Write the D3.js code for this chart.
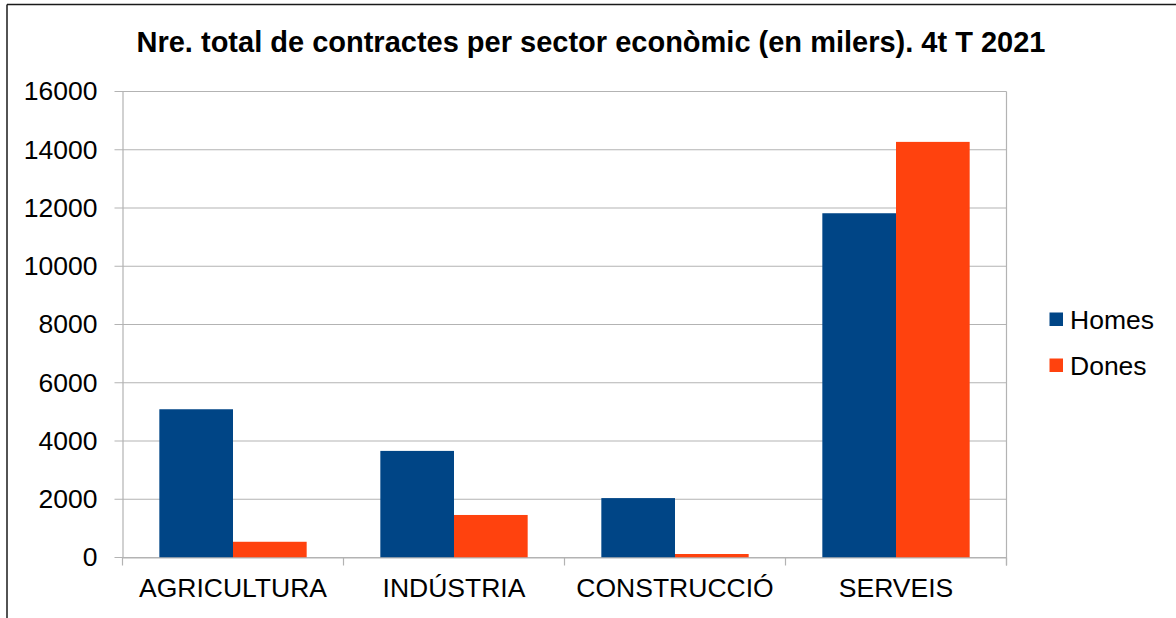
<!DOCTYPE html>
<html>
<head>
<meta charset="utf-8">
<script src="https://cdn.jsdelivr.net/npm/d3@7"></script>
<style>
  html, body { margin: 0; padding: 0; background: #fff; }
  svg { display: block; font-family: "Liberation Sans", Arial, sans-serif; }
</style>
</head>
<body>
<svg id="chart" width="1176" height="618"></svg>
<script>
// Contractes per sector econòmic (milers), 4t trimestre 2021
const categories = ["AGRICULTURA", "INDÚSTRIA", "CONSTRUCCIÓ", "SERVEIS"];
const seriesNames = ["Homes", "Dones"];
const homes = [5090, 3660, 2040, 11820];
const dones = [540, 1460, 120, 14270];
const yTicks = [0, 2000, 4000, 6000, 8000, 10000, 12000, 14000, 16000];
const title = "Nre. total de contractes per sector econòmic (en milers). 4t T 2021";

const colors = ["#004586", "#ff420e"];
const values = [homes, dones];

const W = 1176, H = 618;
const plot = { left: 122.5, right: 1006.5, top: 91.5, bottom: 557.5 };
const labelSize = 26.5;

const svg = d3.select("#chart");

// outer frame (top and left edges visible)
svg.append("line").attr("x1", 7).attr("x2", W).attr("y1", 4.5).attr("y2", 4.5)
  .attr("stroke", "#1a1a1a").attr("stroke-width", 1.5);
svg.append("line").attr("x1", 7).attr("x2", 7).attr("y1", 4.5).attr("y2", H)
  .attr("stroke", "#1a1a1a").attr("stroke-width", 1.5);

// title
svg.append("text")
  .attr("x", 591).attr("y", 52)
  .attr("text-anchor", "middle")
  .attr("font-weight", "bold")
  .attr("font-size", 29)
  .attr("fill", "#000")
  .text(title);

const x = d3.scaleBand().domain(categories).range([plot.left, plot.right]);
const xInner = d3.scaleBand().domain(seriesNames)
  .range([x.bandwidth() / 6, x.bandwidth() * 5 / 6]);
const y = d3.scaleLinear().domain([0, 16000]).range([plot.bottom, plot.top]);

// horizontal gridlines
svg.append("g").selectAll("line").data(yTicks).join("line")
  .attr("x1", plot.left - 8).attr("x2", plot.right)
  .attr("y1", d => y(d)).attr("y2", d => y(d))
  .attr("stroke", "#b3b3b3").attr("stroke-width", 1.2);

// y axis
const yAxis = d3.axisLeft(y).tickValues(yTicks).tickSize(0).tickPadding(25)
  .tickFormat(d3.format("d"));
const gy = svg.append("g").attr("transform", `translate(${plot.left},0)`).call(yAxis);
gy.select(".domain").attr("stroke", "#b3b3b3").attr("stroke-width", 1.2);
gy.selectAll("text").attr("font-size", labelSize).attr("fill", "#000")
  .attr("font-family", "Liberation Sans, Arial, sans-serif");

// right edge of plot area
svg.append("line").attr("x1", plot.right).attr("x2", plot.right)
  .attr("y1", plot.top).attr("y2", plot.bottom + 8)
  .attr("stroke", "#b3b3b3").attr("stroke-width", 1.2);

// bars
const groups = svg.append("g").selectAll("g").data(categories).join("g")
  .attr("transform", c => `translate(${x(c)},0)`);
groups.selectAll("rect")
  .data((c, i) => seriesNames.map((s, k) => ({ s, k, v: values[k][i] })))
  .join("rect")
  .attr("x", d => xInner(d.s))
  .attr("width", xInner.bandwidth())
  .attr("y", d => y(d.v))
  .attr("height", d => y(0) - y(d.v))
  .attr("fill", d => colors[d.k]);

// x axis
const xAxis = d3.axisBottom(x).tickSize(0).tickPadding(21);
const gx = svg.append("g").attr("transform", `translate(0,${plot.bottom})`).call(xAxis);
gx.select(".domain").attr("stroke", "#b3b3b3").attr("stroke-width", 1.2);
gx.selectAll("text").attr("font-size", labelSize).attr("fill", "#000")
  .attr("font-family", "Liberation Sans, Arial, sans-serif");
// category separators below the axis
svg.append("g").selectAll("line").data(categories.concat([null])).join("line")
  .attr("x1", (c, i) => plot.left + i * x.step())
  .attr("x2", (c, i) => plot.left + i * x.step())
  .attr("y1", plot.bottom).attr("y2", plot.bottom + 8)
  .attr("stroke", "#b3b3b3").attr("stroke-width", 1.2);

// legend
const legend = svg.append("g").selectAll("g").data(seriesNames).join("g")
  .attr("transform", (d, i) => `translate(1049.5,${312.5 + i * 46})`);
legend.append("rect").attr("width", 13.5).attr("height", 13.5)
  .attr("fill", (d, i) => colors[i]);
legend.append("text").attr("x", 20.5).attr("y", 16.5)
  .attr("font-size", labelSize).attr("fill", "#000").text(d => d);
</script>
</body>
</html>
